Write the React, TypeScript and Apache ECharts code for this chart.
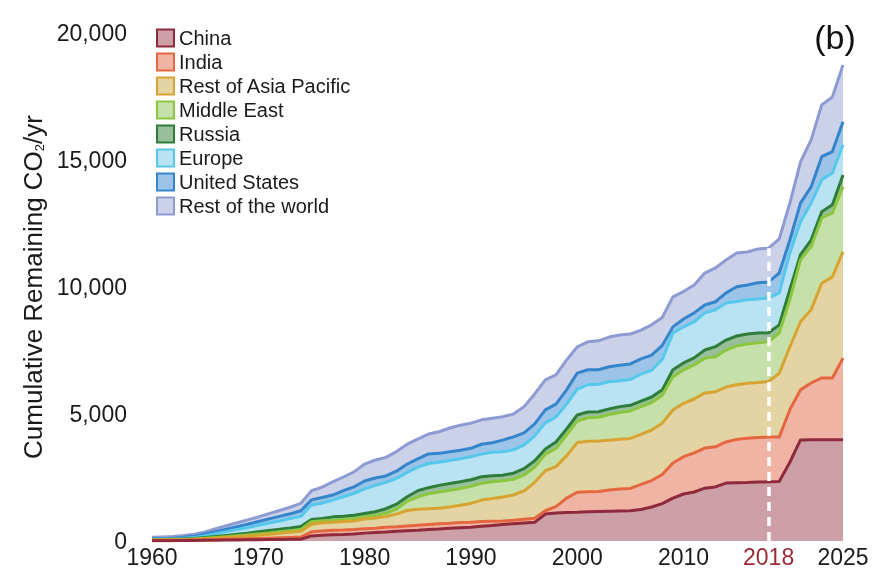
import React, { useEffect, useRef } from "react";
import * as echarts from "echarts";

const FONT = "'Liberation Sans', Arial, Helvetica, sans-serif";

const years: string[] = Array.from({ length: 66 }, (_, i) => String(1960 + i));
const xLabelYears = ["1960", "1970", "1980", "1990", "2000", "2010", "2018", "2025"];
const markYear = "2018";

const seriesNames = [
  "China",
  "India",
  "Rest of Asia Pacific",
  "Middle East",
  "Russia",
  "Europe",
  "United States",
  "Rest of the world",
];
const lineColors = ["#8e2a3b", "#e5673f", "#d8a431", "#8cc63f", "#2e7d3a", "#55c8ec", "#3585cc", "#8e9bd3"];
const fillColors = ["#cda0a8", "#f0b4a5", "#e4d3a3", "#c6e0a9", "#97c09a", "#b9e3f2", "#9bc4e8", "#cbd1e8"];

// Cumulative upper boundary of each stacked band, 1960..2025
const chinaTop = [
  10, 12, 14, 16, 20, 25, 30, 35, 40, 45,
  50, 55, 60, 65, 70, 200, 230, 250, 260, 280,
  310, 330, 350, 380, 400, 420, 450, 470, 500, 520,
  540, 580, 610, 650, 680, 710, 740, 1060, 1100, 1120,
  1130, 1150, 1160, 1170, 1180, 1190, 1240, 1340, 1470, 1690,
  1850, 1930, 2080, 2130, 2280, 2290, 2300, 2320, 2330, 2340,
  3100, 3980, 3990, 3990, 3990, 3990,
];
const indiaTop = [
  20, 25, 30, 35, 40, 50, 60, 70, 80, 90,
  100, 110, 125, 140, 155, 360, 390, 420, 430, 450,
  480, 500, 540, 560, 590, 620, 650, 680, 700, 730,
  740, 770, 780, 790, 820, 860, 900, 1190, 1350, 1690,
  1920, 1940, 1950, 2010, 2050, 2070, 2230, 2380, 2620, 3070,
  3320, 3470, 3660, 3710, 3900, 4000, 4050, 4070, 4090, 4090,
  5170, 5950, 6220, 6420, 6420, 7200,
];
const asiaPacificTop = [
  30, 35, 40, 50, 65, 85, 110, 135, 165, 195,
  230, 265, 300, 340, 380, 660, 720, 740, 770, 790,
  870, 910, 960, 1060, 1200, 1250, 1270, 1290, 1340, 1410,
  1480, 1610, 1670, 1730, 1810, 1970, 2310, 2770, 2930, 3350,
  3880, 3930, 3940, 3970, 4010, 4040, 4200, 4370, 4640, 5160,
  5420, 5590, 5830, 5880, 6060, 6150, 6210, 6240, 6280, 6600,
  7640, 8630, 9100, 10150, 10400, 11390,
];
const middleEastTop = [
  40, 45, 50, 62, 80, 105, 135, 170, 205, 240,
  280, 320, 360, 405, 450, 760, 800, 820, 850, 880,
  950, 1000, 1090, 1260, 1560, 1740, 1860, 1930, 2000, 2070,
  2150, 2270, 2330, 2370, 2430, 2600, 2900, 3420, 3640, 4180,
  4720, 4850, 4870, 4980, 5060, 5120, 5290, 5450, 5740, 6460,
  6740, 6930, 7200, 7250, 7520, 7680, 7760, 7800, 7850, 8190,
  9500, 11070, 11590, 12720, 12920, 13950,
];
const russiaTop = [
  55, 60, 66, 80, 100, 135, 175, 220, 265, 310,
  360, 410, 460, 510, 570, 850, 890, 950, 970, 1010,
  1080, 1150, 1270, 1450, 1740, 1980, 2100, 2190, 2260, 2330,
  2410, 2530, 2570, 2590, 2670, 2850, 3160, 3620, 3900, 4410,
  4960, 5080, 5090, 5200, 5290, 5340, 5510, 5670, 5950, 6740,
  7010, 7210, 7520, 7650, 7910, 8070, 8150, 8190, 8200, 8510,
  9890, 11270, 11850, 12960, 13240, 14410,
];
const europeTop = [
  70, 78, 86, 110, 140, 210, 290, 370, 450, 530,
  620, 710, 790, 880, 970, 1420, 1490, 1610, 1740, 1870,
  2050, 2190, 2310, 2460, 2700, 2910, 3050, 3100, 3170, 3240,
  3320, 3420, 3490, 3510, 3590, 3780, 4140, 4650, 4880, 5390,
  5980, 6150, 6170, 6270, 6310, 6360, 6570, 6720, 7150, 8190,
  8430, 8630, 8980, 9100, 9370, 9430, 9500, 9530, 9570, 9770,
  11340, 12570, 13300, 14220, 14490, 15600,
];
const unitedStatesTop = [
  90, 100, 110, 145, 190, 280, 370, 460, 560, 660,
  770, 870, 970, 1070, 1190, 1620, 1710, 1810, 1980, 2130,
  2360, 2480, 2560, 2750, 3030, 3230, 3430, 3450, 3510, 3570,
  3650, 3810, 3870, 3970, 4100, 4260, 4610, 5160, 5390, 5950,
  6610, 6740, 6740, 6860, 6920, 6970, 7170, 7320, 7700, 8430,
  8740, 8980, 9290, 9420, 9770, 10010, 10080, 10170, 10200, 10550,
  11850, 13300, 13940, 15130, 15330, 16510,
];
const restOfWorldTop = [
  150, 160, 175, 215, 265, 360, 480, 600, 720, 830,
  950, 1080, 1200, 1330, 1480, 1980, 2120, 2330, 2520, 2720,
  3030, 3190, 3290, 3520, 3810, 4010, 4210, 4300, 4450, 4560,
  4640, 4770, 4830, 4890, 5000, 5290, 5790, 6340, 6540, 7130,
  7640, 7840, 7880, 8030, 8110, 8150, 8300, 8510, 8800, 9610,
  9820, 10080, 10550, 10750, 11060, 11340, 11380, 11500, 11530, 11890,
  13300, 14920, 15790, 17170, 17480, 18740,
];

const yTicks = { min: 0, max: 20000, interval: 5000 };

const tops = [
  chinaTop,
  indiaTop,
  asiaPacificTop,
  middleEastTop,
  russiaTop,
  europeTop,
  unitedStatesTop,
  restOfWorldTop,
];

export default function App() {
  const ref = useRef<HTMLDivElement>(null);

  useEffect(() => {
    if (!ref.current) return;
    const chart = echarts.init(ref.current, null, { renderer: "svg" });

    const bands = tops.map((top, s) =>
      top.map((v, i) => v - (s > 0 ? tops[s - 1][i] : 0))
    );
    const markIdx = years.indexOf(markYear);

    const series: any[] = seriesNames.map((name, s) => ({
      name,
      type: "line",
      stack: "total",
      data: bands[s],
      showSymbol: false,
      symbol: "none",
      z: 20 - s,
      lineStyle: { color: lineColors[s], width: 3, join: "round" },
      itemStyle: { color: lineColors[s] },
      areaStyle: { color: fillColors[s], opacity: 1 },
      emphasis: { disabled: true },
    }));

    // dashed white marker at 2018, drawn above all areas
    series[0].markLine = {
      silent: true,
      z: 60,
      symbol: "none",
      label: { show: false },
      lineStyle: { color: "#ffffff", type: [9, 6], width: 3.5, opacity: 1 },
      emphasis: { disabled: true },
      data: [
        [
          { coord: [markYear, 0] },
          { coord: [markYear, restOfWorldTop[markIdx]] },
        ],
      ],
    };

    chart.setOption({
      animation: false,
      grid: { left: 152, right: 29, top: 33, bottom: 35 },
      legend: {
        orient: "vertical",
        left: 151,
        top: 23,
        itemWidth: 17,
        itemHeight: 17,
        itemGap: 4,
        selectedMode: false,
        textStyle: { fontSize: 20, lineHeight: 20, color: "#1a1a1a", fontFamily: FONT },
        data: seriesNames.map((name, s) => ({
          name,
          icon: "rect",
          itemStyle: { color: fillColors[s], borderColor: lineColors[s], borderWidth: 2 },
        })),
      },
      xAxis: {
        type: "category",
        data: years,
        boundaryGap: false,
        axisLine: { show: false },
        axisTick: { show: false },
        splitLine: { show: false },
        axisLabel: {
          interval: (_i: number, v: string) => xLabelYears.includes(v),
          margin: 4,
          fontSize: 23,
          color: "#1a1a1a",
          fontFamily: FONT,
          formatter: (v: string) => (v === markYear ? "{r|" + v + "}" : v),
          rich: { r: { color: "#9a2a35", fontSize: 23, fontFamily: FONT } },
        },
      },
      yAxis: {
        type: "value",
        min: yTicks.min,
        max: yTicks.max,
        interval: yTicks.interval,
        axisLine: { show: false },
        axisTick: { show: false },
        splitLine: { show: false },
        axisLabel: {
          margin: 25,
          fontSize: 23,
          color: "#1a1a1a",
          fontFamily: FONT,
          formatter: (v: number) => v.toLocaleString("en-US"),
        },
        name: "{a|Cumulative Remaining CO}{s|2}{a|/yr}",
        nameLocation: "middle",
        nameGap: 104,
        nameTextStyle: {
          color: "#1a1a1a",
          fontFamily: FONT,
          fontSize: 26,
          rich: {
            a: { fontSize: 26, color: "#1a1a1a", fontFamily: FONT },
            s: { fontSize: 13, color: "#1a1a1a", fontFamily: FONT, verticalAlign: "bottom" },
          },
        },
      },
      graphic: [
        {
          type: "text",
          x: 835,
          y: 37,
          style: {
            text: "(b)",
            fontSize: 34,
            fontFamily: FONT,
            fill: "#111111",
            align: "center",
            verticalAlign: "middle",
          },
        },
      ],
      series,
    });

    return () => chart.dispose();
  }, []);

  return (
    <div
      ref={ref}
      style={{ position: "fixed", left: 0, top: 0, width: 872, height: 576 }}
    />
  );
}
